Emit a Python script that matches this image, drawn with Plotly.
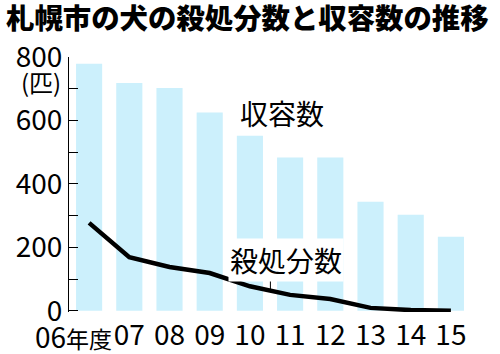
import plotly.graph_objects as go

years = ["06", "07", "08", "09", "10", "11", "12", "13", "14", "15"]
tick_labels = ["06年度", "07", "08", "09", "10", "11", "12", "13", "14", "15"]
shelter = [779, 718, 702, 625, 552, 483, 483, 344, 303, 233]
culled = [277, 169, 138, 119, 77, 50, 37, 9, 2, 0]
y_ticks = [0, 200, 400, 600, 800]

NUM_FONT = "Noto Sans CJK JP, sans-serif"
CJK_FONT = "Noto Sans CJK JP, sans-serif"

L, R, T, B = 69, 29, 57, 42
PW, PH = 500 - L - R, 354 - T - B


def px_paper(px, py):
    return (px - L) / PW, (354 - B - py) / PH


fig = go.Figure()
fig.add_trace(go.Bar(x=years, y=shelter, marker_color="#CCF0FC",
                     marker_line_width=0, width=0.65))
fig.add_trace(go.Scatter(x=years, y=culled, mode="lines",
                         line=dict(color="black", width=4.5)))

fig.update_layout(
    width=500, height=354,
    margin=dict(l=L, r=R, t=T, b=B),
    paper_bgcolor="white", plot_bgcolor="white",
    showlegend=False,
    title=dict(text="札幌市の犬の殺処分数と収容数の推移",
               font=dict(family=CJK_FONT, size=28.4, color="black", weight=900),
               x=0.012, xanchor="left", xref="container",
               y=1 - 19 / 354, yanchor="middle", yref="container"),
    xaxis=dict(type="category", range=[-0.5, 9.5], showline=False,
               showgrid=False, ticks="", tickvals=years[1:],
               ticktext=tick_labels[1:], automargin=False,
               ticklabelstandoff=4,
               tickfont=dict(family=NUM_FONT, size=28, color="black")),
    yaxis=dict(range=[-4, 800], showline=True, linecolor="black", linewidth=1,
               showgrid=False, zeroline=False, ticks="inside", ticklen=9,
               tickcolor="black", tickwidth=1, tickvals=y_ticks,
               ticktext=[str(v) for v in y_ticks], automargin=False,
               tickfont=dict(family=NUM_FONT, size=28, color="black"),
               minor=dict(dtick=100, tick0=0, ticks="inside", ticklen=9,
                          tickcolor="black", tickwidth=1)),
)

fig.add_annotation(x=0, y=0, xref="x", yref="paper", xshift=-16,
                   yshift=-2, yanchor="top", xanchor="center", showarrow=False,
                   text=tick_labels[0][:2] + '<span style="font-size:23px">'
                        + tick_labels[0][2:] + "</span>",
                   font=dict(family=NUM_FONT, size=28, color="black"))
ux, uy = px_paper(41, 81)
fig.add_annotation(x=ux, y=uy, xref="paper", yref="paper", showarrow=False,
                   xanchor="center", yanchor="middle",
                   text="(匹)", font=dict(family=CJK_FONT, size=24, color="black"))

fig.add_annotation(x=4.81, y=624, xref="x", yref="y", showarrow=False,
                   text="収容数", font=dict(family=CJK_FONT, size=28, color="black"))
fig.add_shape(type="line", x0=4.51, x1=4.51, y0=63, y1=115, xref="x", yref="y",
              line=dict(color="black", width=1))
fig.add_annotation(x=4.91, y=161, xref="x", yref="y", showarrow=False,
                   text="殺処分数", bgcolor="white", borderpad=1,
                   font=dict(family=CJK_FONT, size=28, color="black"))

fig.write_html("out.html")
